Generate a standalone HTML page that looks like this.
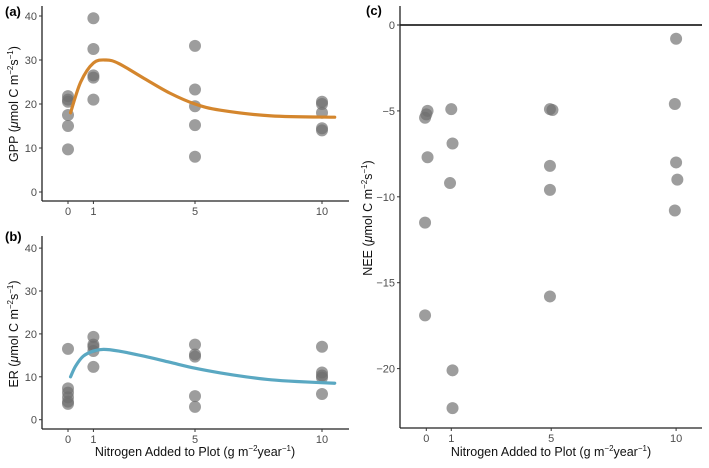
<!DOCTYPE html>
<html><head><meta charset="utf-8"><style>
html,body{margin:0;padding:0;background:#fff;}
svg{display:block;font-family:"Liberation Sans",sans-serif;}
.tick{font-size:11px;fill:#4d4d4d;}
.title{font-size:12.5px;fill:#111;}
.lab{font-size:13px;font-weight:bold;fill:#000;}
</style></head><body>
<svg id="chart" width="709" height="468" viewBox="0 0 709 468" xmlns="http://www.w3.org/2000/svg"></svg>
<script>
// Panel (a) GPP
const gppX = [0,0,0,0,0,0, 1,1,1,1,1, 5,5,5,5,5, 10,10,10,10,10];
const gppY = [21.8,21,20.5,17.5,15,9.7, 39.5,32.5,26.5,26,21, 33.2,23.3,19.5,15.2,8, 20.5,20,18,14.5,14];
const gppCurveX = [0.1,0.5,1,1.5,2,3,4,5,6,8,10.5];
const gppCurveY = [18,25,29.3,30,29.2,25.8,22.5,20,18.6,17.3,17];
// Panel (b) ER
const erX = [0,0,0,0,0,0, 1,1,1,1,1, 5,5,5,5,5, 10,10,10,10,10];
const erY = [16.5,7.3,6.3,5.2,4.2,3.7, 19.3,17.5,17,16,12.3, 17.5,15.2,14.7,5.5,3, 17,11,10.3,9.8,6];
const erCurveX = [0.1,0.3,0.6,1,1.4,2,3,4,5,6,7,8,9,10.5];
const erCurveY = [10,12.5,14.8,16,16.4,16,14.8,13.4,12,10.9,10,9.3,8.9,8.5];
// Panel (c) NEE
const neeX = [0.05,-0.05,0.05,-0.05,-0.05,0, 1,1.05,0.95,1.05,1.05, 4.95,5.05,4.95,4.95,4.95, 10,9.95,10,10.05,9.95];
const neeY = [-5,-5.4,-7.7,-11.5,-16.9,-5.2, -4.9,-6.9,-9.2,-20.1,-22.3, -4.9,-4.95,-8.2,-9.6,-15.8, -0.8,-4.6,-8,-9,-10.8];
const xTicks = [0,1,5,10];
const yTicksAB = [0,10,20,30,40];
const yTicksC = [0,-5,-10,-15,-20];

const svg = document.getElementById('chart');
const NS = 'http://www.w3.org/2000/svg';
function mk(tag, attrs, parent){const e=document.createElementNS(NS,tag);for(const k in attrs)e.setAttribute(k,attrs[k]);(parent||svg).appendChild(e);return e;}
function txt(s, attrs, parent){const e=mk('text',attrs,parent);e.textContent=s;return e;}

function smoothPath(pts){
  let d='M'+pts[0][0]+','+pts[0][1];
  for(let i=0;i<pts.length-1;i++){
    const p0=pts[Math.max(0,i-1)],p1=pts[i],p2=pts[i+1],p3=pts[Math.min(pts.length-1,i+2)];
    const c1=[p1[0]+(p2[0]-p0[0])/6,p1[1]+(p2[1]-p0[1])/6];
    const c2=[p2[0]-(p3[0]-p1[0])/6,p2[1]-(p3[1]-p1[1])/6];
    d+=' C'+c1+' '+c2+' '+p2;
  }
  return d;
}

function panel(cfg){
  const g=mk('g',{});
  
  
  const sx=v=>cfg.x0+(v)*cfg.xs;
  const sy=v=>cfg.y0-(v-cfg.yRef)*cfg.ys;
  if(cfg.zeroLine){
    const zl=mk('line',{x1:cfg.left,x2:cfg.right,y1:sy(0),y2:sy(0),stroke:'#000','stroke-width':1.5},g);
    
    
  }
  const ya=mk('line',{x1:cfg.left,x2:cfg.left,y1:cfg.top,y2:cfg.bottom,stroke:'#222','stroke-width':1.3},g);
  
  
  const xa=mk('line',{x1:cfg.left,x2:cfg.right,y1:cfg.bottom,y2:cfg.bottom,stroke:'#222','stroke-width':1.3},g);
  
  
  cfg.yTicks.forEach(t=>{
    mk('line',{x1:cfg.left-3,x2:cfg.left,y1:sy(t),y2:sy(t),stroke:'#333'},g);
    const l=txt(t<0?'\u2212'+(-t):String(t),{x:cfg.left-5,y:sy(t)+4,'text-anchor':'end',class:'tick'},g);
    
    
  });
  xTicks.forEach(t=>{
    mk('line',{x1:sx(t),x2:sx(t),y1:cfg.bottom,y2:cfg.bottom+3,stroke:'#333'},g);
    const l=txt(String(t),{x:sx(t),y:cfg.bottom+14,'text-anchor':'middle',class:'tick'},g);
    
    
  });
  cfg.px.forEach((x,i)=>{
    const c=mk('circle',{cx:sx(x),cy:sy(cfg.py[i]),r:6,fill:'#6e6e6e','fill-opacity':0.68},g);
    
    
  });
  if(cfg.cx){
    const p=mk('path',{d:smoothPath(cfg.cx.map((x,i)=>[sx(x),sy(cfg.cy[i])])),fill:'none',stroke:cfg.color,'stroke-width':3.2,'stroke-linecap':'round'},g);
    
    
  }
  const lab=txt(cfg.label,{x:cfg.labX,y:cfg.labY,class:'lab'},g);
  
  
  const yt=mk('text',{transform:`translate(${cfg.ytX},${cfg.ytY}) rotate(-90)`,'text-anchor':'middle',class:'title'},g);
  yt.innerHTML=cfg.yTitle+' (<tspan font-style="italic">\u03bc</tspan>mol C m<tspan dy="-5" font-size="8">\u22122</tspan><tspan dy="5">s</tspan><tspan dy="-5" font-size="8">\u22121</tspan><tspan dy="5">)</tspan>';
  
  
  if(cfg.xTitle){
    const xt=mk('text',{x:cfg.xtX,y:cfg.xtY,'text-anchor':'middle',class:'title'},g);
    xt.innerHTML='Nitrogen Added to Plot (g m<tspan dy="-5" font-size="8">\u22122</tspan><tspan dy="5">year</tspan><tspan dy="-5" font-size="8">\u22121</tspan><tspan dy="5">)</tspan>';
    
    
  }
}

panel({name:'panel-a-gpp',x0:68,xs:25.4,y0:192,yRef:0,ys:4.4,left:42,right:349,top:6,bottom:201,
  yTicks:yTicksAB,px:gppX,py:gppY,cx:gppCurveX,cy:gppCurveY,color:'#d4862d',label:'(a)',labX:5,labY:16,
  yTitle:'GPP',ytX:18,ytY:104});
panel({name:'panel-b-er',x0:68,xs:25.4,y0:419.7,yRef:0,ys:4.29,left:42,right:349,top:236,bottom:429,
  yTicks:yTicksAB,px:erX,py:erY,cx:erCurveX,cy:erCurveY,color:'#5aa8c2',label:'(b)',labX:5,labY:241,
  yTitle:'ER',ytX:18,ytY:334,xTitle:true,xtX:195,xtY:456});
panel({name:'panel-c-nee',x0:426.3,xs:24.98,y0:25,yRef:0,ys:17.18,left:400,right:702,top:6,bottom:428,
  yTicks:yTicksC,px:neeX,py:neeY,label:'(c)',labX:366,labY:15,zeroLine:true,
  yTitle:'NEE',ytX:372,ytY:218,xTitle:true,xtX:551,xtY:456});
</script>
</body></html>
